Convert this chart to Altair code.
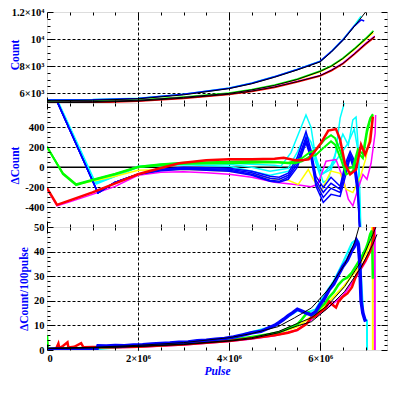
import altair as alt
import pandas as pd

X_MAX = 7.47e6
SERIF = "Liberation Serif"

# ---------------- axis ticks / labels ----------------
x_major = [0, 2e6, 4e6, 6e6]
x_major_labels = ["0", "2×10⁶", "4×10⁶", "6×10⁶"]
x_minor = [0.5e6, 1e6, 1.5e6, 2.5e6, 3e6, 3.5e6, 4.5e6, 5e6, 5.5e6, 6.5e6, 7e6]
x_grid = [2e6, 4e6, 6e6]

top_dom = [5280, 12000]
top_major = [6000, 8000, 10000, 12000]
top_labels = ["6×10³", "8×10³", "10⁴", "1.2×10⁴"]
top_minor = list(range(5500, 12000, 500))
top_grid = [6000, 8000, 10000]

mid_dom = [-595, 640]
mid_major = [-400, -200, 0, 200, 400]
mid_labels = ["-400", "-200", "0", "200", "400"]
mid_minor = list(range(-550, 650, 50))
mid_grid = [-400, -200, 200, 400]

bot_dom = [0, 50]
bot_major = [0, 10, 20, 30, 40, 50]
bot_labels = ["0", "10", "20", "30", "40", "50"]
bot_minor = list(range(2, 50, 2))
bot_grid = [10, 20, 30, 40]

# ---------------- top panel: Count (x in 10^6 pulses) ----------------
top_up_x = [0, 1, 2, 3, 4, 4.5, 5, 5.5, 6, 6.25, 6.5, 6.75, 7.0]
top_up_fit = [5450, 5480, 5590, 5880, 6340, 6700, 7180, 7720, 8310, 9050, 9900, 10920, 12000]
top_blue_x = [0, 1, 2, 3, 4, 4.5, 5, 5.5, 6, 6.25, 6.5, 6.75, 6.9, 6.97]
top_blue = [5500, 5520, 5620, 5920, 6370, 6740, 7220, 7760, 8350, 9090, 9940, 10960, 11420, 11330]
top_cyan_x = [0, 1, 2, 3, 4, 4.5, 5, 5.5, 6, 6.25, 6.5, 6.75, 6.9]
top_cyan = [5520, 5540, 5640, 5930, 6380, 6750, 7230, 7770, 8360, 9100, 9960, 10990, 11700]

top_lo_x = [0, 1, 2, 3, 4, 4.5, 5, 5.5, 6, 6.25, 6.5, 6.75, 7.0, 7.17]
top_lo_fit = [5350, 5380, 5480, 5700, 5990, 6250, 6580, 7020, 7610, 8000, 8560, 9250, 10000, 10550]
top_green = [5380, 5410, 5510, 5730, 6020, 6280, 6610, 7050, 7640, 8040, 8600, 9290, 10050, 10620]
top_yellow = [5330, 5360, 5460, 5680, 5970, 6230, 6560, 7000, 7590, 7980, 8530, 9220, 9960, 10480]

top_ll_x = [0, 1, 2, 3, 4, 4.5, 5, 5.5, 6, 6.25, 6.5, 6.75, 7.0, 7.2]
top_ll_fit = [5300, 5330, 5430, 5640, 5930, 6160, 6460, 6860, 7300, 7700, 8200, 8900, 9650, 10190]
top_red = [5270, 5300, 5400, 5610, 5900, 6130, 6430, 6830, 7270, 7660, 8160, 8860, 9610, 10150]
top_magenta = [5320, 5350, 5450, 5660, 5950, 6180, 6480, 6880, 7320, 7720, 8230, 8930, 9680, 10220]

# ---------------- middle panel: ΔCount ----------------
mid_c1_x = [0, 1.08, 1.5, 2.0, 2.5, 3.0, 4.0, 4.5, 5.0, 5.14, 5.36, 5.56, 5.69, 5.80, 5.91, 6.07, 6.18, 6.33, 6.44, 6.51, 6.56]
mid_c1 = [895, -167, -90, 0, 30, 45, 40, 30, 20, 11, 146, 373, 521, 400, 77, -151, -120, 110, 490, 604, 700]
mid_c2_x = [0, 1.05, 1.5, 2.0, 3.0, 4.0, 4.5, 4.9, 5.3, 5.5, 5.69, 5.80, 5.96, 6.07, 6.24, 6.35, 6.5, 6.62, 6.72, 6.79, 6.83, 6.87, 6.88]
mid_c2 = [880, -150, -80, 10, 40, 30, 0, -40, -10, 150, 330, 250, 30, -60, 20, 150, 330, 220, 472, 500, 250, -400, -700]
mid_c3_x = [0, 1.05, 1.5, 2.0, 3.0, 4.0, 4.5, 4.9, 5.3, 5.5, 5.69, 5.85, 6.0, 6.2, 6.4, 6.6, 6.75, 6.85, 6.9]
mid_c3 = [870, -160, -90, 5, 25, 10, -40, -80, -40, 70, 250, 120, -80, -30, 100, 230, 380, 120, -700]

mid_b_x = [0, 1.12, 1.49, 2.0, 2.5, 3.0, 4.0, 4.5, 4.9, 5.1, 5.3, 5.5, 5.69, 5.80, 5.91, 6.07, 6.24, 6.44, 6.55, 6.66, 6.76, 6.83, 6.88]
mid_b1 = [880, -256, -150, -70, -20, 0, -10, -40, -90, -100, -60, 100, 355, 170, -90, -200, -100, -190, 30, 158, 60, -150, -700]
mid_b2 = [880, -256, -150, -70, -25, -10, -20, -55, -110, -120, -80, 60, 300, 140, -130, -250, -160, -220, 0, 130, 30, -200, -700]
mid_b3 = [880, -256, -150, -70, -30, -15, -30, -70, -130, -140, -100, 30, 270, 110, -160, -300, -210, -250, -50, 110, 0, -250, -700]
mid_b4 = [880, -256, -150, -70, -35, -20, -40, -80, -140, -150, -120, 0, 245, 90, -190, -350, -270, -290, -100, 97, -50, -300, -700]

mid_m_x = [0, 0.22, 0.5, 1.0, 1.5, 2.0, 2.5, 3.0, 3.5, 4.0, 4.5, 5.0, 5.5, 5.8, 5.95, 6.13, 6.35, 6.51, 6.62, 6.72, 6.83, 6.94, 7.03, 7.12, 7.21, 7.22]
mid_m = [-215, -385, -345, -270, -190, -80, -50, -45, -55, -70, -100, -150, -175, -193, -170, 60, 77, -120, -318, -384, -219, -71, -120, 40, 343, 520]

mid_y_x = [0, 0.35, 0.64, 1.0, 1.5, 2.0, 3.0, 4.0, 4.5, 5.0, 5.3, 5.52, 5.74, 5.85, 6.02, 6.24, 6.44, 6.57, 6.72, 6.88, 7.01, 7.12, 7.16]
mid_y = [200, -60, -170, -140, -90, -30, -20, -40, -70, -120, -130, -170, -22, -120, -236, -38, -60, -219, -252, -101, 96, 406, 521]

mid_g_x = [0, 0.35, 0.64, 1.0, 1.5, 2.0, 2.5, 3.0, 4.0, 4.5, 5.0, 5.3, 5.45, 5.6, 5.78, 5.9, 6.11, 6.24, 6.33, 6.46, 6.57, 6.72, 6.83, 6.94, 7.03, 7.10, 7.16]
mid_g1 = [207, -69, -177, -130, -70, 0, 20, 35, 40, 45, 50, 40, 40, 60, 110, 120, 208, 258, 225, 77, -71, -40, 146, 90, 343, 472, 521]
mid_g2 = [200, -60, -170, -125, -65, 5, 30, 45, 55, 60, 55, 45, 60, 90, 150, 170, 280, 320, 290, 140, -20, 0, 180, 130, 380, 490, 530]

mid_r_x = [0, 0.22, 0.5, 1.0, 1.5, 2.0, 2.4, 2.9, 3.5, 4.0, 4.5, 5.0, 5.2, 5.45, 5.6, 5.75, 5.85, 6.02, 6.18, 6.35, 6.44, 6.55, 6.66, 6.79, 6.90, 6.99, 7.10, 7.16]
mid_r = [-207, -374, -330, -250, -160, -70, -20, 40, 70, 80, 80, 85, 95, 70, 70, 80, 140, 242, 366, 380, 275, 28, -71, -22, 225, 126, 258, 505]

# ---------------- bottom panel: ΔCount/100pulse ----------------
bot_b_x = [0, 0.2, 0.4, 0.6, 0.8, 1.0, 1.1, 1.12, 1.3, 1.5, 1.7, 1.9, 2.1, 2.3, 2.5, 2.7, 2.9, 3.1, 3.3, 3.5, 3.7, 3.9,
           4.1, 4.3, 4.5, 4.7, 4.9, 5.0, 5.1, 5.2, 5.3, 5.4, 5.5, 5.6, 5.7, 5.8, 5.9, 6.0, 6.1, 6.2, 6.3, 6.4, 6.5,
           6.6, 6.7, 6.75, 6.8, 6.84, 6.87, 6.9, 6.94, 6.98, 7.0]
bot_b = [0.3, 0.4, 0.2, 0.5, 0.3, 0.4, 0.5, 1.7, 1.6, 1.8, 1.7, 2.0, 2.1, 2.4, 2.6, 2.8, 3.2, 3.3, 3.8, 4.0, 4.4, 4.7,
         5.3, 6.1, 7.0, 7.6, 9.2, 10.0, 11.2, 12.5, 14.0, 15.2, 16.6, 15.8, 15.0, 14.3, 15.5, 18.5, 21.0, 24.5, 26.8,
         30.5, 34.0, 36.5, 40.5, 42.0, 44.5, 43.0, 36.0, 20.0, 15.0, 12.5, 11.5]
bot_c_x = [0, 1.0, 2.0, 3.0, 4.0, 4.5, 5.0, 5.3, 5.5, 5.7, 5.9, 6.1, 6.3, 6.5, 6.7, 6.8, 6.85, 6.9, 6.95, 7.0, 7.03, 7.035]
bot_c = [0.3, 0.2, 1.7, 3.0, 4.8, 7.3, 9.8, 13.5, 16.0, 15.2, 16.5, 22.5, 28.0, 35.5, 43.5, 45.0, 44.0, 30.0, 14.0, 12.5, 12.0, -20]
bot_g_x = [0, 0.02, 0.2, 0.5, 1.0, 1.5, 2.0, 2.5, 3.0, 3.5, 4.0, 4.5, 4.9, 5.1, 5.3, 5.5, 5.6, 5.7, 5.75, 5.85, 6.0,
           6.1, 6.2, 6.3, 6.4, 6.5, 6.6, 6.7, 6.8, 6.9, 7.0, 7.05, 7.1, 7.14, 7.16]
bot_g = [6.0, 0.5, 0.4, 0.6, 0.9, 1.2, 1.5, 1.9, 2.5, 3.2, 4.0, 5.3, 6.5, 7.2, 8.8, 10.4, 12.5, 14.8, 15.3, 13.2, 17.2,
         18.8, 21.5, 23.5, 26.5, 28.5, 29.5, 31.5, 34.5, 37.5, 41.0, 43.5, 47.1, 48.5, 29.0]
bot_r_x = [0, 0.2, 0.25, 0.27, 0.35, 0.45, 0.47, 0.6, 0.75, 0.8, 1.0, 1.5, 2.0, 2.5, 3.0, 3.5, 4.0, 4.5, 5.0, 5.3, 5.5,
           5.7, 5.8, 5.9, 6.0, 6.1, 6.2, 6.3, 6.35, 6.4, 6.5, 6.6, 6.7, 6.8, 6.9, 7.0, 7.1, 7.16, 7.18, 7.19]
bot_r = [0.3, 0.5, 2.6, 0.8, 1.6, 3.1, 1.0, 1.3, 2.8, 1.1, 1.2, 1.1, 1.3, 1.8, 2.2, 2.9, 3.7, 4.8, 6.0, 7.0, 8.2,
         10.5, 13.1, 13.8, 15.5, 16.5, 19.7, 18.0, 17.3, 19.5, 21.7, 23.0, 25.5, 30.7, 33.5, 36.5, 40.2, 44.0, 46.0, 90]
bot_y_x = [0, 1.0, 2.0, 3.0, 4.0, 4.5, 5.0, 5.5, 6.0, 6.5, 6.8, 7.0, 7.1, 7.14, 7.155, 7.16]
bot_y = [0.4, 1.0, 1.4, 2.3, 3.8, 5.0, 6.4, 9.5, 16.0, 25.5, 32.5, 39.0, 43.0, 45.0, 90, -20]
bot_m_x = [0, 1.0, 2.0, 3.0, 4.0, 4.5, 5.0, 5.5, 6.0, 6.5, 6.8, 7.0, 7.1, 7.18, 7.2, 7.205]
bot_m = [0.3, 0.9, 1.2, 2.1, 3.6, 4.6, 5.9, 8.0, 15.0, 22.0, 30.0, 36.0, 40.0, 44.0, 90, -20]

bot_fu_x = [0, 1, 2, 3, 4, 4.5, 5.08, 5.44, 5.81, 6.18, 6.54, 6.76, 6.87, 6.92]
bot_fu = [0.7, 1.1, 1.9, 3.0, 5.0, 6.7, 9.5, 13.1, 17.1, 24.6, 34.8, 43.8, 51.0, 55.0]
bot_fl_x = [0, 1, 2, 3, 4, 4.5, 5.08, 5.5, 5.81, 6.18, 6.54, 6.9, 7.16, 7.25]
bot_fl1 = [0.6, 0.9, 1.5, 2.4, 3.8, 5.0, 7.5, 10.8, 13.1, 18.4, 25.8, 36.0, 47.0, 51.0]
bot_fl2 = [0.6, 0.9, 1.4, 2.2, 3.6, 4.6, 7.0, 9.8, 11.5, 17.2, 23.8, 33.6, 43.0, 47.0]

BLUE, CYAN, GREEN, YELLOW, RED, MAGENTA, BLACK = (
    "#0000ff", "#00ffff", "#00ff00", "#ffff00", "#ff0000", "#ff00ff", "#000000")

TOP_H, MID_H, BOT_H, W = 91, 124, 123, 340


def table(series):
    rows = []
    for key, col, xs_, ys_, w in series:
        for a, b in zip(xs_, ys_):
            rows.append({"x": a * 1e6, "y": b, "s": key, "c": col, "w": w})
    return pd.DataFrame(rows)


def xs():
    return alt.Scale(domain=[0, X_MAX], nice=False, zero=False)


def ysc(dom):
    return alt.Scale(domain=dom, nice=False, zero=False)


def lines(series, dom):
    df = table(series)
    return alt.Chart(df).mark_line(clip=True).encode(
        x=alt.X("x:Q", scale=xs(), axis=None),
        y=alt.Y("y:Q", scale=ysc(dom), axis=None),
        color=alt.Color("c:N", scale=None),
        strokeWidth=alt.StrokeWidth("w:Q", scale=None),
        detail="s:N",
    )


def lab_expr(vals, labs):
    expr = "''"
    for v, l in reversed(list(zip(vals, labs))):
        expr = f"datum.value == {v} ? '{l}' : ({expr})"
    return expr


LAB = dict(labelFont=SERIF, labelFontWeight="bold", labelFontSize=10.5, labelColor="black")
TICK = dict(domain=False, grid=False, tickColor="black", tickWidth=1, zindex=2)


def axis_layers(dom, ymaj, ylab, ymin, ygrid, ytitle, title_x, title_y, bottom):
    d = pd.DataFrame({"x": [0, X_MAX], "y": dom})

    def L(xa, ya):
        return alt.Chart(d).mark_point(opacity=0, size=1).encode(
            x=alt.X("x:Q", scale=xs(), axis=xa),
            y=alt.Y("y:Q", scale=ysc(dom), axis=ya),
        )

    if bottom:
        xb = alt.Axis(orient="bottom", values=x_major, tickSize=6, offset=-6, labels=True,
                      labelExpr=lab_expr(x_major, x_major_labels), labelPadding=3, title="Pulse",
                      titleColor="blue", titleFont=SERIF, titleFontStyle="italic", titleFontWeight="bold",
                      titleFontSize=11.5, titlePadding=2, **LAB, **TICK)
    else:
        xb = alt.Axis(orient="bottom", values=x_major, tickSize=6, offset=-6, labels=False, title=None, **TICK)
    yl = alt.Axis(orient="left", values=ymaj, tickSize=6, offset=-6, labelExpr=lab_expr(ymaj, ylab),
                  labelPadding=3, title=None, **LAB, **TICK)
    xt = alt.Axis(orient="top", values=x_major, tickSize=6, offset=-6, labels=False, title=None, **TICK)
    yr = alt.Axis(orient="right", values=ymaj, tickSize=6, offset=-6, labels=False, title=None, **TICK)
    xbm = alt.Axis(orient="bottom", values=x_minor, tickSize=3, offset=-3, labels=False, title=None, **TICK)
    ylm = alt.Axis(orient="left", values=ymin, tickSize=3, offset=-3, labels=False, title=None, **TICK)
    xtm = alt.Axis(orient="top", values=x_minor, tickSize=3, offset=-3, labels=False, title=None, **TICK)
    yrm = alt.Axis(orient="right", values=ymin, tickSize=3, offset=-3, labels=False, title=None, **TICK)
    GRID = dict(grid=True, ticks=False, labels=False, domain=False, gridColor="black",
                gridDash=[3, 2], gridWidth=1, gridOpacity=1)
    xg = alt.Axis(orient="bottom", values=x_grid, title=None, **GRID)
    yg = alt.Axis(orient="left", values=ygrid, title=ytitle, titleColor="blue", titleFont=SERIF,
                  titleFontWeight="bold", titleFontSize=11.5, titleX=title_x, titleY=title_y,
                  titleAngle=270, titleBaseline="middle", titleAlign="center", **GRID)
    return [L(xg, yg), L(xb, yl), L(xt, yr), L(xbm, ylm), L(xtm, yrm)]


# ---- top panel ----
top_lines = lines([
    ("1c", CYAN, top_cyan_x, top_cyan, 1.5), ("2b", BLUE, top_blue_x, top_blue, 1.5),
    ("3y", YELLOW, top_lo_x, top_yellow, 1.5), ("4g", GREEN, top_lo_x, top_green, 1.5),
    ("5m", MAGENTA, top_ll_x, top_magenta, 1.5), ("6r", RED, top_ll_x, top_red, 1.5),
    ("7k", BLACK, top_up_x, top_up_fit, 1), ("8k", BLACK, top_lo_x, top_lo_fit, 1),
    ("9k", BLACK, top_ll_x, top_ll_fit, 1),
], top_dom)
top = alt.layer(*axis_layers(top_dom, top_major, top_labels, top_minor, top_grid, "Count", -32,
                             TOP_H / 2 - 3, False),
                top_lines).resolve_axis(x="independent", y="independent").properties(
    width=W, height=TOP_H)

# ---- middle panel ----
mid_lines = lines([
    ("01c", CYAN, mid_c1_x, mid_c1, 1.5), ("02c", CYAN, mid_c2_x, mid_c2, 1.5),
    ("03c", CYAN, mid_c3_x, mid_c3, 1.5), ("04m", MAGENTA, mid_m_x, mid_m, 1.5),
    ("05y", YELLOW, mid_y_x, mid_y, 1.5),
    ("06b", BLUE, mid_b_x, mid_b1, 1.5), ("07b", BLUE, mid_b_x, mid_b2, 1.5),
    ("08b", BLUE, mid_b_x, mid_b3, 1.5), ("09b", BLUE, mid_b_x, mid_b4, 1.5),
    ("10g", GREEN, mid_g_x, mid_g1, 2), ("11g", GREEN, mid_g_x, mid_g2, 2),
    ("12r", RED, mid_r_x, mid_r, 2.5),
], mid_dom)
zero = alt.Chart(pd.DataFrame({"y": [0]})).mark_rule(color="black", strokeWidth=1.5).encode(
    y=alt.Y("y:Q", scale=ysc(mid_dom), axis=None))
mid = alt.layer(*axis_layers(mid_dom, mid_major, mid_labels, mid_minor, mid_grid, "ΔCount", -32,
                             MID_H / 2, False),
                zero, mid_lines).resolve_axis(x="independent", y="independent").properties(
    width=W, height=MID_H)

# ---- bottom panel ----
bot_lines = lines([
    ("1c", CYAN, bot_c_x, bot_c, 2), ("2y", YELLOW, bot_y_x, bot_y, 2), ("3m", MAGENTA, bot_m_x, bot_m, 2),
    ("4g", GREEN, bot_g_x, bot_g, 2.5), ("5r", RED, bot_r_x, bot_r, 2.5), ("6b", BLUE, bot_b_x, bot_b, 3.5),
    ("7k", BLACK, bot_fu_x, bot_fu, 1), ("8k", BLACK, bot_fl_x, bot_fl1, 1), ("9k", BLACK, bot_fl_x, bot_fl2, 1),
], bot_dom)
bot = alt.layer(*axis_layers(bot_dom, bot_major, bot_labels, bot_minor, bot_grid, "ΔCount/100pulse", -22.5,
                             BOT_H / 2, True),
                bot_lines).resolve_axis(x="independent", y="independent").properties(
    width=W, height=BOT_H)

chart = alt.vconcat(top, mid, bot, spacing=0, bounds="flush").properties(
    padding={"left": 0, "top": -2, "right": 0, "bottom": 0}
).configure_view(stroke="black", strokeWidth=1.5).configure(background="white")

chart.save("out.html", embed_options={"renderer": "svg", "actions": False})
